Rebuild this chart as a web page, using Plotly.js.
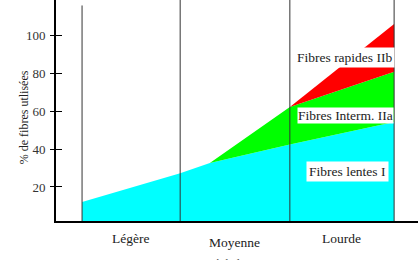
<!DOCTYPE html>
<html>
<head>
<meta charset="utf-8">
<script src="https://cdn.plot.ly/plotly-3.0.1.min.js"></script>
<style>html,body{margin:0;padding:0;background:#fff;}#chart{width:420px;height:260px;}</style>
</head>
<body>
<div id="chart"></div>
<script>
// Intensity scale (0-100) positions of the data points
var xLevels = [7.2, 34.3, 42.5, 64.6, 93.4];
// cumulative % of fibres used (top edge of each band)
var lentesTop = [12.1, 27.2, 32.7, 42.5, 54.4];
var intermTop = [null, null, 32.7, 62.3, 81.0];
var rapidesTop = [null, null, null, 62.3, 106.2];
// boundaries between intensity zones
var zoneBounds = [7.2, 34.3, 64.6, 93.4];
var categories = ['Légère', 'Moyenne', 'Lourde'];
var categoryX = [20.7, 49.4, 79.0];
var yTicks = [20, 40, 60, 80, 100];
var bandLabels = ['Fibres rapides IIb', 'Fibres Interm. IIa', 'Fibres lentes I'];
var bandLabelX = [79.6, 80.1, 80.4];
var bandLabelY = [88.7, 57.8, 28.2];

function poly(top, bottom) {
  var xs = [], ys = [];
  for (var i = 0; i < xLevels.length; i++) if (top[i] !== null) { xs.push(xLevels[i]); ys.push(top[i]); }
  for (var j = xLevels.length - 1; j >= 0; j--) if (top[j] !== null) { xs.push(xLevels[j]); ys.push(bottom ? bottom[j] : 0); }
  return {x: xs, y: ys};
}
var pc = poly(lentesTop, null);
var pg = poly(intermTop, lentesTop);
var pr = poly(rapidesTop, intermTop);

var serif = 'Liberation Serif, Times New Roman, serif';
var traces = [
  {x: pc.x, y: pc.y, type: 'scatter', mode: 'lines', fill: 'toself', fillcolor: '#00ffff', line: {width: 0}, hoverinfo: 'skip'},
  {x: pg.x, y: pg.y, type: 'scatter', mode: 'lines', fill: 'toself', fillcolor: '#00ff00', line: {width: 0}, hoverinfo: 'skip'},
  {x: pr.x, y: pr.y, type: 'scatter', mode: 'lines', fill: 'toself', fillcolor: '#ff0000', line: {width: 0}, hoverinfo: 'skip'},
  {x: [0], y: [50], yaxis: 'y2', type: 'scatter', mode: 'markers', marker: {opacity: 0}, hoverinfo: 'skip'}
];

var shapes = zoneBounds.map(function (b, i) {
  return {type: 'line', xref: 'x', yref: i === 0 ? 'y' : 'paper', x0: b, x1: b,
    y0: i === 0 ? 2 : 0, y1: i === 0 ? 116 : 1, line: {color: '#333', width: 1}};
});

var annotations = [];
categories.forEach(function (c, i) {
  annotations.push({text: c, x: categoryX[i], xref: 'x', yref: 'paper', y: i === 1 ? -0.0995 : -0.079,
    showarrow: false, font: {family: serif, size: 13.5, color: '#222'}, xanchor: 'center', yanchor: 'middle'});
});
bandLabels.forEach(function (t, i) {
  annotations.push({text: t, x: bandLabelX[i], y: bandLabelY[i], xref: 'x', yref: 'y', showarrow: false,
    bgcolor: '#ffffff', borderpad: i === 1 ? 0 : 2, font: {family: serif, size: 13.5, color: '#222'}});
});
annotations.push({text: '% de fibres utlisées', xref: 'paper', yref: 'paper', x: -0.113, y: 0.47,
  textangle: -90, showarrow: false, font: {family: serif, size: 12, color: '#222'}});
annotations.push({text: "Intensité de l'exercice", xref: 'x', yref: 'paper', x: 48, y: -0.235,
  showarrow: false, font: {family: serif, size: 12, color: '#555'}});

var layout = {
  width: 420, height: 260,
  margin: {l: 56, r: 2, t: 0, b: 39},
  paper_bgcolor: '#fff', plot_bgcolor: '#fff',
  showlegend: false,
  xaxis: {range: [0, 100], showgrid: false, zeroline: false, showticklabels: false, ticks: '',
    showline: true, linecolor: '#000', linewidth: 2, fixedrange: true},
  yaxis: {range: [2, 118.9], showgrid: false, zeroline: false, tickvals: yTicks, ticks: 'outside', ticklen: 4,
    tickcolor: '#000', tickwidth: 1, showline: true, linecolor: '#000', linewidth: 2,
    tickfont: {family: serif, size: 13, color: '#333'}, ticklabelstandoff: 2},
  yaxis2: {range: [2, 118.9], overlaying: 'y', side: 'left', showgrid: false, zeroline: false, tickvals: yTicks,
    ticks: 'inside', ticklen: 6, tickcolor: '#000', showticklabels: false, showline: false},
  shapes: shapes,
  annotations: annotations
};
Plotly.newPlot('chart', traces, layout, {staticPlot: true, displayModeBar: false});
</script>
</body>
</html>
